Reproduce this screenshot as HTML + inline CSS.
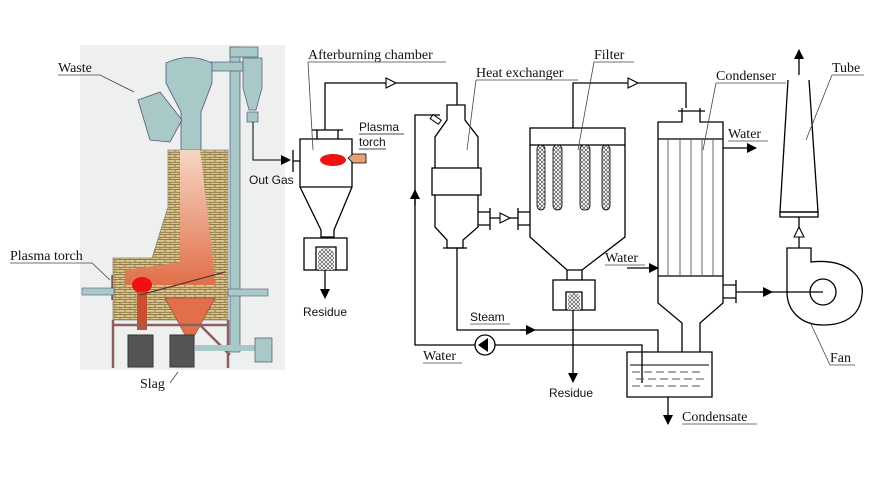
<!DOCTYPE html>
<html><head><style>
body{margin:0;background:#fff;}
svg{display:block;}
.s{font-family:"Liberation Serif",serif;font-size:14px;fill:#111;}
.a{font-family:"Liberation Sans",sans-serif;font-size:12px;fill:#111;}
</style></head><body>
<svg width="881" height="478" viewBox="0 0 881 478" xmlns="http://www.w3.org/2000/svg">
<defs>
<pattern id="br" width="10" height="5" patternUnits="userSpaceOnUse">
<rect width="10" height="5" fill="#dcc68c"/>
<path d="M0 4.6H10M5 0V2.3M0 2.3H10M0 2.3V5M10 2.3V5" stroke="#8a7446" stroke-width="0.9"/>
</pattern>
<pattern id="hx" width="4" height="4" patternUnits="userSpaceOnUse">
<rect width="4" height="4" fill="#fff"/><path d="M0 0L4 4M4 0L0 4" stroke="#555" stroke-width="0.7"/>
</pattern>
<linearGradient id="pk" x1="0" y1="0" x2="0" y2="1"><stop offset="0" stop-color="#f7d6c4"/><stop offset="1" stop-color="#e0704a"/></linearGradient>
<marker id="fa" markerWidth="10" markerHeight="10" refX="9" refY="5" orient="auto" markerUnits="userSpaceOnUse"><path d="M0 0L10 5L0 10Z" fill="#000"/></marker>
</defs>
<rect x="80" y="45" width="205" height="325" fill="#eef0ef"/>
<rect x="230" y="47" width="10" height="305" fill="#a9c9c9" stroke="#557" stroke-width="0.7"/>
<rect x="230" y="47" width="28" height="10" fill="#a9c9c9" stroke="#557" stroke-width="0.7"/>
<rect x="210" y="62" width="33" height="9" fill="#a9c9c9" stroke="#557" stroke-width="0.7"/>
<path d="M243 58H262V88L256 110H249L243 88Z" fill="#a9c9c9" stroke="#557" stroke-width="0.7"/>
<rect x="247" y="112" width="11" height="10" fill="#a9c9c9" stroke="#557" stroke-width="0.7"/>
<path d="M166 63Q189 52 212 63V83L201 112V150H181V112L166 83Z" fill="#a9c9c9" stroke="#557" stroke-width="0.8"/>
<path d="M138 100L160 92L182 120L170 142L150 140Z" fill="#a9c9c9" stroke="#557" stroke-width="0.8"/>
<path d="M168 150H228V320H113V258H152L168 207Z" fill="url(#br)" stroke="#887" stroke-width="0.8"/>
<path d="M180 150H200L212 250L215 285H125V270L180 262Z" fill="url(#pk)"/>
<ellipse cx="142" cy="285" rx="10" ry="8" fill="#f01010"/>
<path d="M165 298H215L195 335H185Z" fill="#e0704a" stroke="#844" stroke-width="0.6"/>
<rect x="137" y="292" width="10" height="38" fill="#c85030"/>
<path d="M112 275V300M140 295L225 272" stroke="#633" stroke-width="1.2"/>
<rect x="82" y="288" width="32" height="7" fill="#a9c9c9" stroke="#557" stroke-width="0.6"/>
<rect x="228" y="289" width="40" height="7" fill="#a9c9c9" stroke="#557" stroke-width="0.6"/>
<path d="M113 320V368M228 320V368M113 325H228M200 325L230 355" stroke="#8a6060" stroke-width="2.5" fill="none"/>
<rect x="128" y="335" width="25" height="32" fill="#555" stroke="#333"/>
<rect x="170" y="335" width="24" height="32" fill="#555" stroke="#333"/>
<rect x="195" y="345" width="60" height="6" fill="#a9c9c9"/>
<path d="M255 338H272V362H255Z" fill="#a9c9c9" stroke="#557" stroke-width="0.7"/>
<text class="s" x="58" y="72">Waste</text><path d="M58 75H100L134 92" stroke="#444" fill="none" stroke-width="0.8"/>
<text class="s" x="10" y="260">Plasma torch</text><path d="M10 263H92L110 280" stroke="#444" fill="none" stroke-width="0.8"/>
<text class="s" x="140" y="388">Slag</text><path d="M170 383L178 372" stroke="#444" stroke-width="0.8"/>
<path d="M253 122V160H290" stroke="#000" fill="none" marker-end="url(#fa)"/>
<text class="a" x="249" y="184">Out Gas</text>
<g stroke="#000" stroke-width="1.3" fill="none">
<path d="M293 150V172M293 161H300"/>
<path d="M300 139H352V187L334 230V237H321V230L300 187Z"/>
<path d="M300 187H352"/>
<path d="M317 139V130H338V139M312 130H343"/>
<path d="M325 130V83H457V105"/>
<rect x="304" y="238" width="43" height="32"/>
<path d="M316 270V247H336V270"/>
<path d="M447 105H465V120L478 137V227L463 240V248H447V240L435 227V137L447 120Z"/>
<rect x="432" y="168" width="49" height="27" fill="#fff"/>
<path d="M443 248H467"/>
<path d="M478 212H490V225H478M490 208V230"/>
<path d="M490 218H518M518 208V230M518 212H530M518 225H530"/>
<rect x="530" y="128" width="95" height="17"/>
<path d="M530 145V237L567 270H582L625 237V145"/>
<path d="M573 128V83H686V108"/>
<rect x="553" y="280" width="42" height="30"/>
<path d="M567 270V280M582 270V280"/>
<path d="M566 310V292H582V310"/>
<path d="M457 248V330H658V352"/>
<path d="M642 383V345H495M475 345H415V115H440"/>
<path d="M682 108V122H658V303L682 323V352M700 352V323L723 303V122H700V108M678 111H705"/>
<path d="M658 139H723M658 276H723"/>
<path d="M723 285H736V298H723M736 280V303"/>
<path d="M627 352V397H712V352Z"/>
<path d="M787 292V248H811V262C848 258 865 278 862 295C860 318 842 325 823 325C800 325 787 310 787 292"/>
<circle cx="823" cy="292" r="13"/>
<path d="M788 80L780 212H818L809 80"/>
<rect x="780" y="212" width="38" height="5"/>
<path d="M799 217V248"/>
</g>
<g stroke="#555" stroke-width="0.9">
<path d="M668 139V276M680 139V276M691 139V276M702 139V276M713 139V276"/>
<path d="M630 365H709" stroke="#000"/>
<path d="M632 372h8m4 0h8m4 0h8m4 0h8m4 0h8m4 0h8M636 379h8m4 0h8m4 0h8m4 0h8m4 0h8m4 0h8M632 386h8m4 0h8m4 0h8m4 0h8m4 0h8m4 0h8"/>
</g>
<ellipse cx="333" cy="160" rx="13" ry="6" fill="#e11"/>
<path d="M348 158L353 154H366V163H353Z" fill="#e9a07a" stroke="#000" stroke-width="0.8"/>
<path d="M318 270V252Q326 244 334 252V270Z" fill="url(#hx)"/>
<path d="M568 310V296Q574 289 580 296V310Z" fill="url(#hx)"/>
<g fill="url(#hx)" stroke="#000" stroke-width="0.8">
<rect x="537" y="145" width="8" height="65" rx="4"/>
<rect x="553" y="145" width="9" height="65" rx="4"/>
<rect x="580" y="145" width="10" height="65" rx="4"/>
<rect x="602" y="145" width="8" height="65" rx="4"/>
</g>
<g fill="#fff" stroke="#000" stroke-width="1.1">
<path d="M386 78L396 83L386 88Z"/>
<path d="M500 213L510 218L500 223Z"/>
<path d="M628 78L638 83L628 88Z"/>
<path d="M794 237L799 227L804 237Z"/>
</g>
<circle cx="485" cy="345" r="10" fill="#fff" stroke="#000" stroke-width="1.3"/>
<path d="M478 345L488 338V352Z" fill="#000"/>
<rect x="431" y="117" width="10" height="5" fill="#fff" stroke="#000" transform="rotate(35 436 119)"/>
<g stroke="#000" stroke-width="1.3">
<path d="M325 270V298" marker-end="url(#fa)"/>
<path d="M573 310V382" marker-end="url(#fa)"/>
<path d="M668 397V424" marker-end="url(#fa)"/>
<path d="M415 205V190" marker-end="url(#fa)"/>
<path d="M520 330H535" marker-end="url(#fa)"/>
<path d="M627 268H658" marker-end="url(#fa)"/>
<path d="M723 148H756" marker-end="url(#fa)"/>
<path d="M736 292H770M770 292H823"/>
<path d="M760 292H772" marker-end="url(#fa)"/>
<path d="M799 75V50" marker-end="url(#fa)"/>
</g>
<g>
<text class="s" x="308" y="59">Afterburning chamber</text><path d="M308 62H446M308 62L313 150" stroke="#444" stroke-width="0.8" fill="none"/>
<text class="a" x="359" y="131">Plasma</text><text class="a" x="359" y="146">torch</text>
<path d="M359 134H404M359 149H386" stroke="#111" stroke-width="0.8"/>
<text class="s" x="476" y="77">Heat exchanger</text><path d="M476 80H578M476 80L467 150" stroke="#444" stroke-width="0.8" fill="none"/>
<text class="s" x="594" y="59">Filter</text><path d="M594 62H634M594 62L578 150" stroke="#444" stroke-width="0.8" fill="none"/>
<text class="s" x="716" y="80">Condenser</text><path d="M716 83H786M716 83L703 150" stroke="#444" stroke-width="0.8" fill="none"/>
<text class="s" x="832" y="72">Tube</text><path d="M832 75H864M832 75L806 140" stroke="#444" stroke-width="0.8" fill="none"/>
<text class="s" x="830" y="362">Fan</text><path d="M830 365H855M830 365L810 322" stroke="#444" stroke-width="0.8" fill="none"/>
<text class="s" x="728" y="138">Water</text><path d="M728 141H768" stroke="#444" stroke-width="0.8"/>
<text class="s" x="605" y="262">Water</text><path d="M605 265H645" stroke="#444" stroke-width="0.8"/>
<text class="s" x="423" y="360">Water</text><path d="M423 363H462" stroke="#444" stroke-width="0.8"/>
<text class="a" x="470" y="321">Steam</text><path d="M470 324H510" stroke="#444" stroke-width="0.8"/>
<text class="a" x="303" y="316">Residue</text>
<text class="a" x="549" y="397">Residue</text>
<text class="s" x="682" y="421">Condensate</text><path d="M682 424H757" stroke="#444" stroke-width="0.8"/>
</g>
</svg>
</body></html>
